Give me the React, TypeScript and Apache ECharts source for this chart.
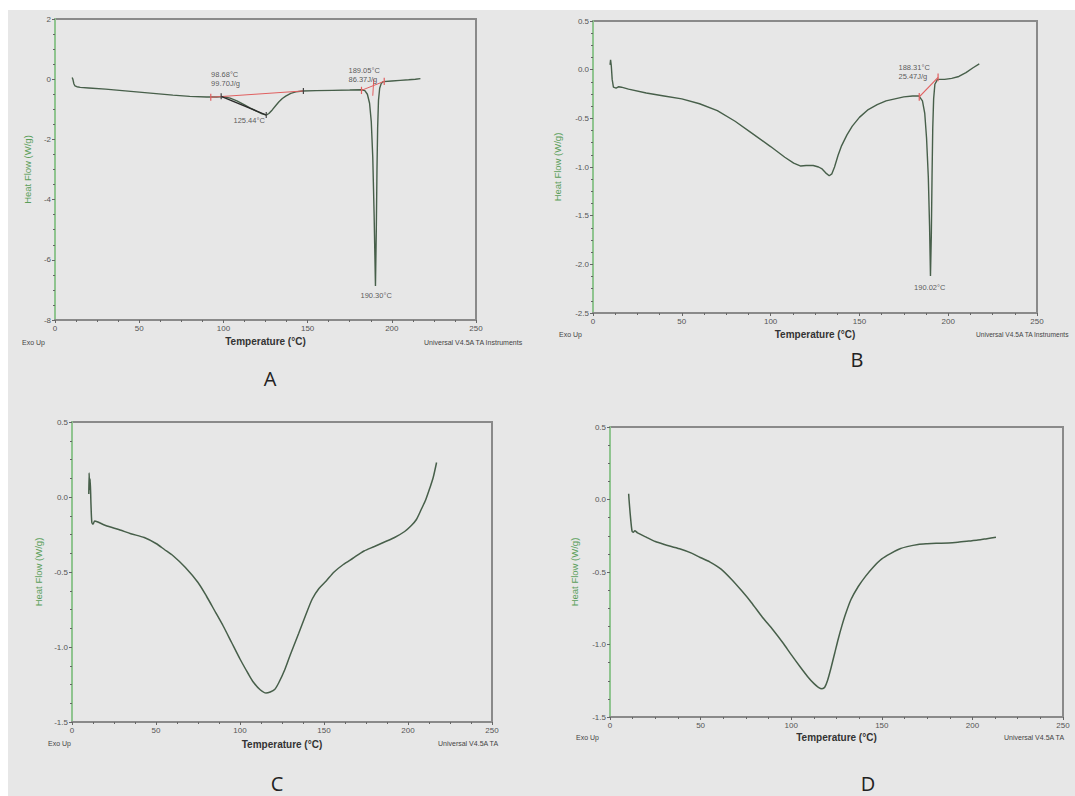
import React, { useEffect, useRef } from "react";
import * as echarts from "echarts";

const FONT = "'Liberation Sans', Arial, sans-serif";

// Temperature (°C), Heat flow (W/g)
const curveA: number[][] = [
  [10.2, 0.06], [10.6, 0.0], [11.2, -0.15], [11.8, -0.22], [13, -0.25], [15, -0.27], [20, -0.29],
  [30, -0.33], [40, -0.38], [50, -0.43], [60, -0.48], [70, -0.53], [80, -0.57], [90, -0.59],
  [96, -0.59], [100, -0.58], [104, -0.63], [108, -0.72], [112, -0.84], [116, -0.96], [120, -1.07],
  [123, -1.15], [125.44, -1.19], [127, -1.14], [129, -1.02], [131, -0.88], [133, -0.75], [135, -0.64],
  [137, -0.56], [140, -0.47], [143, -0.42], [147, -0.39], [155, -0.38], [165, -0.37], [175, -0.36],
  [182, -0.35], [184, -0.38], [185.5, -0.5], [186.8, -0.8], [187.8, -1.4], [188.7, -2.6], [189.5, -4.5],
  [190.3, -6.87], [190.8, -5.0], [191.2, -3.0], [191.6, -1.6], [192.1, -0.7], [192.8, -0.3],
  [193.8, -0.13], [195, -0.08], [200, -0.06], [205, -0.04], [210, -0.02], [214, 0.0], [217, 0.02],
];

const curveB: number[][] = [
  [9.6, 0.05], [9.9, 0.1], [10.3, 0.04], [10.8, -0.1], [11.5, -0.18], [13, -0.19], [14.5, -0.175],
  [16, -0.18], [20, -0.2], [30, -0.24], [40, -0.27], [50, -0.3], [60, -0.35], [70, -0.42], [80, -0.53],
  [90, -0.66], [100, -0.79], [108, -0.9], [113, -0.96], [117, -0.99], [120, -0.985], [124, -0.985],
  [127, -1.0], [129, -1.02], [131, -1.06], [133, -1.09], [134.5, -1.07], [136, -1.0], [138, -0.88],
  [140, -0.78], [143, -0.67], [146, -0.58], [150, -0.49], [155, -0.41], [160, -0.36], [165, -0.32],
  [170, -0.3], [175, -0.28], [180, -0.27], [183.5, -0.27], [185.5, -0.32], [186.8, -0.45], [187.8, -0.7],
  [188.8, -1.1], [189.5, -1.6], [190.02, -2.12], [190.5, -1.7], [190.9, -1.1], [191.3, -0.6],
  [191.8, -0.3], [192.5, -0.15], [194, -0.1], [198, -0.1], [202, -0.09], [206, -0.07], [210, -0.03],
  [214, 0.02], [217.5, 0.06],
];

const curveC: number[][] = [
  [10, 0.02], [10.2, 0.16], [10.5, 0.05], [10.8, 0.12], [11.3, -0.05], [11.8, -0.17], [12.5, -0.18],
  [13.5, -0.16], [15, -0.165], [20, -0.19], [28.6, -0.22], [35, -0.245], [43, -0.27], [50, -0.31],
  [55, -0.35], [60, -0.39], [67.5, -0.47], [75, -0.57], [80, -0.66], [85, -0.76], [90, -0.86],
  [95, -0.97], [100, -1.08], [105, -1.18], [108, -1.235], [112, -1.285], [115.5, -1.307], [118, -1.3],
  [120.6, -1.284], [123, -1.24], [126.7, -1.15], [130, -1.05], [134.9, -0.91], [139, -0.79],
  [143, -0.68], [147, -0.61], [151.3, -0.56], [156, -0.5], [161.5, -0.45], [167, -0.41],
  [173.8, -0.36], [180, -0.33], [186, -0.3], [192, -0.27], [198, -0.23], [202, -0.19], [205, -0.15],
  [208, -0.08], [210.5, -0.02], [213, 0.06], [215, 0.13], [217, 0.23],
];

const curveD: number[][] = [
  [10.3, 0.04], [10.5, 0.0], [11.3, -0.12], [12.2, -0.22], [13, -0.225], [13.7, -0.215], [15.2, -0.23],
  [20, -0.26], [25, -0.29], [30, -0.31], [38.4, -0.34], [45, -0.37], [49.8, -0.4], [55, -0.43],
  [61.3, -0.48], [67, -0.55], [72.7, -0.63], [78, -0.71], [84, -0.81], [90, -0.9], [95.5, -0.99],
  [100, -1.07], [105, -1.155], [109, -1.22], [112.6, -1.27], [115, -1.295], [117, -1.305],
  [118.5, -1.295], [120, -1.25], [122, -1.16], [124, -1.06], [126, -0.96], [128, -0.87], [130, -0.79],
  [133, -0.69], [137, -0.6], [141, -0.53], [145, -0.47], [150, -0.41], [154.5, -0.375], [160, -0.34],
  [164, -0.325], [170, -0.31], [175, -0.305], [180, -0.302], [186.8, -0.3], [192, -0.295],
  [198, -0.287], [203, -0.28], [208, -0.27], [213, -0.26],
];

// analysis lines
const redBaseA1: number[][] = [[92.5, -0.6], [147.5, -0.39]];
const tangentA1: number[][] = [[98.68, -0.57], [125.44, -1.19]];
const redBaseA2: number[][] = [[182, -0.37], [195.5, -0.07]];
const redTanA2: number[][] = [[188.7, -0.55], [189.3, 0.0]];
const redBaseB: number[][] = [[183.7, -0.28], [194.3, -0.08]];
const redTicksA: number[][] = [[92.5, -0.6], [182, -0.37], [195.5, -0.07]];
const darkTicksA: number[][] = [[98.68, -0.57], [147.5, -0.39], [125.44, -1.19]];
const redTicksB: number[][] = [[183.7, -0.28], [194.3, -0.08]];

const labelsA = [
  { t: 92.7, v: 0.02, text: "98.68°C\n99.70J/g" },
  { t: 106, v: -1.37, text: "125.44°C" },
  { t: 174.3, v: 0.15, text: "189.05°C\n86.37J/g" },
  { t: 181.4, v: -7.18, text: "190.30°C" },
];
const labelsB = [
  { t: 172, v: -0.028, text: "188.31°C\n25.47J/g" },
  { t: 180.8, v: -2.24, text: "190.02°C" },
];

const yRanges = [
  { min: -8, max: 2, interval: 2, dec: 0 },
  { min: -2.5, max: 0.5, interval: 0.5, dec: 1 },
  { min: -1.5, max: 0.5, interval: 0.5, dec: 1 },
  { min: -1.5, max: 0.5, interval: 0.5, dec: 1 },
];
const xTicks = { min: 0, max: 250, interval: 50 };
const panelLetters = ["A", "B", "C", "D"];

const grids = [
  { left: 55, top: 19, width: 421, height: 301 },
  { left: 593, top: 21, width: 444, height: 292 },
  { left: 72, top: 422, width: 420, height: 300 },
  { left: 610, top: 427, width: 453, height: 290 },
];
const yNameGaps = [23, 31, 29, 31];
const xNameGaps = [16, 16, 17, 15];
const footers = [
  { exo: [22, 342], uni: [424, 342], uniText: "Universal V4.5A TA Instruments", letter: [270, 378] },
  { exo: [559, 334], uni: [976, 334], uniText: "Universal V4.5A TA Instruments", letter: [857, 359] },
  { exo: [48, 743], uni: [438, 743], uniText: "Universal V4.5A TA", letter: [277, 783] },
  { exo: [576, 737], uni: [1004, 737], uniText: "Universal V4.5A TA", letter: [868, 783] },
];
const footerFont = [7, 6.6, 7, 7];

const CURVE = "#475f4a";

function lineSeries(i: number, data: number[][], color: string, width: number, z = 3, smooth = 0) {
  return {
    type: "line",
    xAxisIndex: i,
    yAxisIndex: i,
    data,
    symbol: "none",
    showSymbol: false,
    silent: true,
    smooth,
    z,
    lineStyle: { color, width },
  };
}

function tickSeries(i: number, pts: number[][], color: string, half: number) {
  return pts.map((p) =>
    lineSeries(i, [[p[0], p[1] - half], [p[0], p[1] + half]], color, 1.2, 4)
  );
}

function labelSeries(i: number, labels: { t: number; v: number; text: string }[]) {
  return {
    type: "scatter",
    xAxisIndex: i,
    yAxisIndex: i,
    symbolSize: 0,
    silent: true,
    z: 5,
    itemStyle: { color: "#333" },
    data: labels.map((l) => ({
      value: [l.t, l.v],
      label: {
        show: true,
        position: "right",
        distance: 0,
        formatter: l.text,
        fontSize: 7.5,
        lineHeight: 9,
        color: "#333",
        textBorderWidth: 0,
        fontFamily: FONT,
        align: "left",
        verticalAlign: "middle",
      },
    })),
  };
}

export default function App() {
  const ref = useRef<HTMLDivElement>(null);
  useEffect(() => {
    if (!ref.current) return;
    const chart = echarts.init(ref.current, undefined, { renderer: "svg" });

    const xAxis = grids.map((_, i) => ({
      type: "value",
      gridIndex: i,
      min: xTicks.min,
      max: xTicks.max,
      interval: xTicks.interval,
      name: "Temperature (°C)",
      nameLocation: "middle",
      nameGap: xNameGaps[i],
      nameTextStyle: { fontSize: 10, fontWeight: "bold", color: "#333", fontFamily: FONT },
      axisLine: { show: true, onZero: false, lineStyle: { color: "#8a8a8a", width: 2 } },
      axisTick: { show: true, length: 3, lineStyle: { color: "#666", width: 1 } },
      minorTick: { show: true, splitNumber: 4, length: 2, lineStyle: { color: "#666", width: 1 } },
      axisLabel: { fontSize: 8, color: "#555", margin: 4, fontFamily: FONT },
      splitLine: { show: false },
    }));

    const yAxis = yRanges.map((r, i) => ({
      type: "value",
      gridIndex: i,
      min: r.min,
      max: r.max,
      interval: r.interval,
      name: "Heat Flow (W/g)",
      nameLocation: "middle",
      nameRotate: 90,
      nameGap: yNameGaps[i],
      nameTextStyle: { fontSize: 9.5, color: "#5a9e5a", fontFamily: FONT },
      axisLine: { show: true, onZero: false, lineStyle: { color: "#8fc48f", width: 2 } },
      axisTick: { show: true, length: 3, lineStyle: { color: "#666", width: 1 } },
      minorTick: { show: true, splitNumber: 4, length: 2, lineStyle: { color: "#666", width: 1 } },
      axisLabel: {
        fontSize: 8,
        color: "#555",
        margin: 4,
        fontFamily: FONT,
        formatter: (v: number) => v.toFixed(r.dec),
      },
      splitLine: { show: false },
    }));

    const series: any[] = [
      lineSeries(0, curveA, CURVE, 1.4),
      lineSeries(1, curveB, CURVE, 1.4),
      lineSeries(2, curveC, CURVE, 1.5, 3, 0.25),
      lineSeries(3, curveD, CURVE, 1.5, 3, 0.25),
      lineSeries(0, redBaseA1, "#e06060", 1, 4),
      lineSeries(0, tangentA1, "#2a2a2a", 1.3, 4),
      lineSeries(0, redBaseA2, "#e06060", 1, 4),
      lineSeries(0, redTanA2, "#e06060", 1, 4),
      lineSeries(1, redBaseB, "#e06060", 1.2, 4),
      ...tickSeries(0, redTicksA, "#e06060", 0.12),
      ...tickSeries(0, darkTicksA, "#444", 0.1),
      ...tickSeries(1, redTicksB, "#e06060", 0.04),
      labelSeries(0, labelsA),
      labelSeries(1, labelsB),
    ];

    const graphic: any[] = [
      { type: "rect", shape: { x: 0, y: 0, width: 1075, height: 10 }, style: { fill: "#ffffff" }, z: 0 },
      { type: "rect", shape: { x: 0, y: 0, width: 8, height: 796 }, style: { fill: "#ffffff" }, z: 0 },
    ];
    footers.forEach((f, i) => {
      graphic.push({
        type: "text",
        x: f.exo[0],
        y: f.exo[1],
        style: { text: "Exo Up", fontSize: 7, fill: "#444", fontFamily: FONT, verticalAlign: "middle" },
      });
      graphic.push({
        type: "text",
        x: f.uni[0],
        y: f.uni[1],
        style: { text: f.uniText, fontSize: footerFont[i], fill: "#444", fontFamily: FONT, verticalAlign: "middle" },
      });
      graphic.push({
        type: "text",
        x: f.letter[0],
        y: f.letter[1],
        style: {
          text: panelLetters[i],
          fontSize: 20,
          fill: "#222",
          fontFamily: "'Open Sans', 'Liberation Sans', sans-serif",
          align: "center",
          verticalAlign: "middle",
        },
      });
    });

    chart.setOption({
      animation: false,
      backgroundColor: "#e7e7e7",
      grid: grids.map((g) => ({
        ...g,
        show: true,
        borderColor: "#8a8a8a",
        borderWidth: 2,
        backgroundColor: "transparent",
        containLabel: false,
      })),
      xAxis,
      yAxis,
      series,
      graphic,
    });
    return () => chart.dispose();
  }, []);

  return (
    <div
      ref={ref}
      style={{ position: "absolute", left: 0, top: 0, width: 1075, height: 796 }}
    />
  );
}
